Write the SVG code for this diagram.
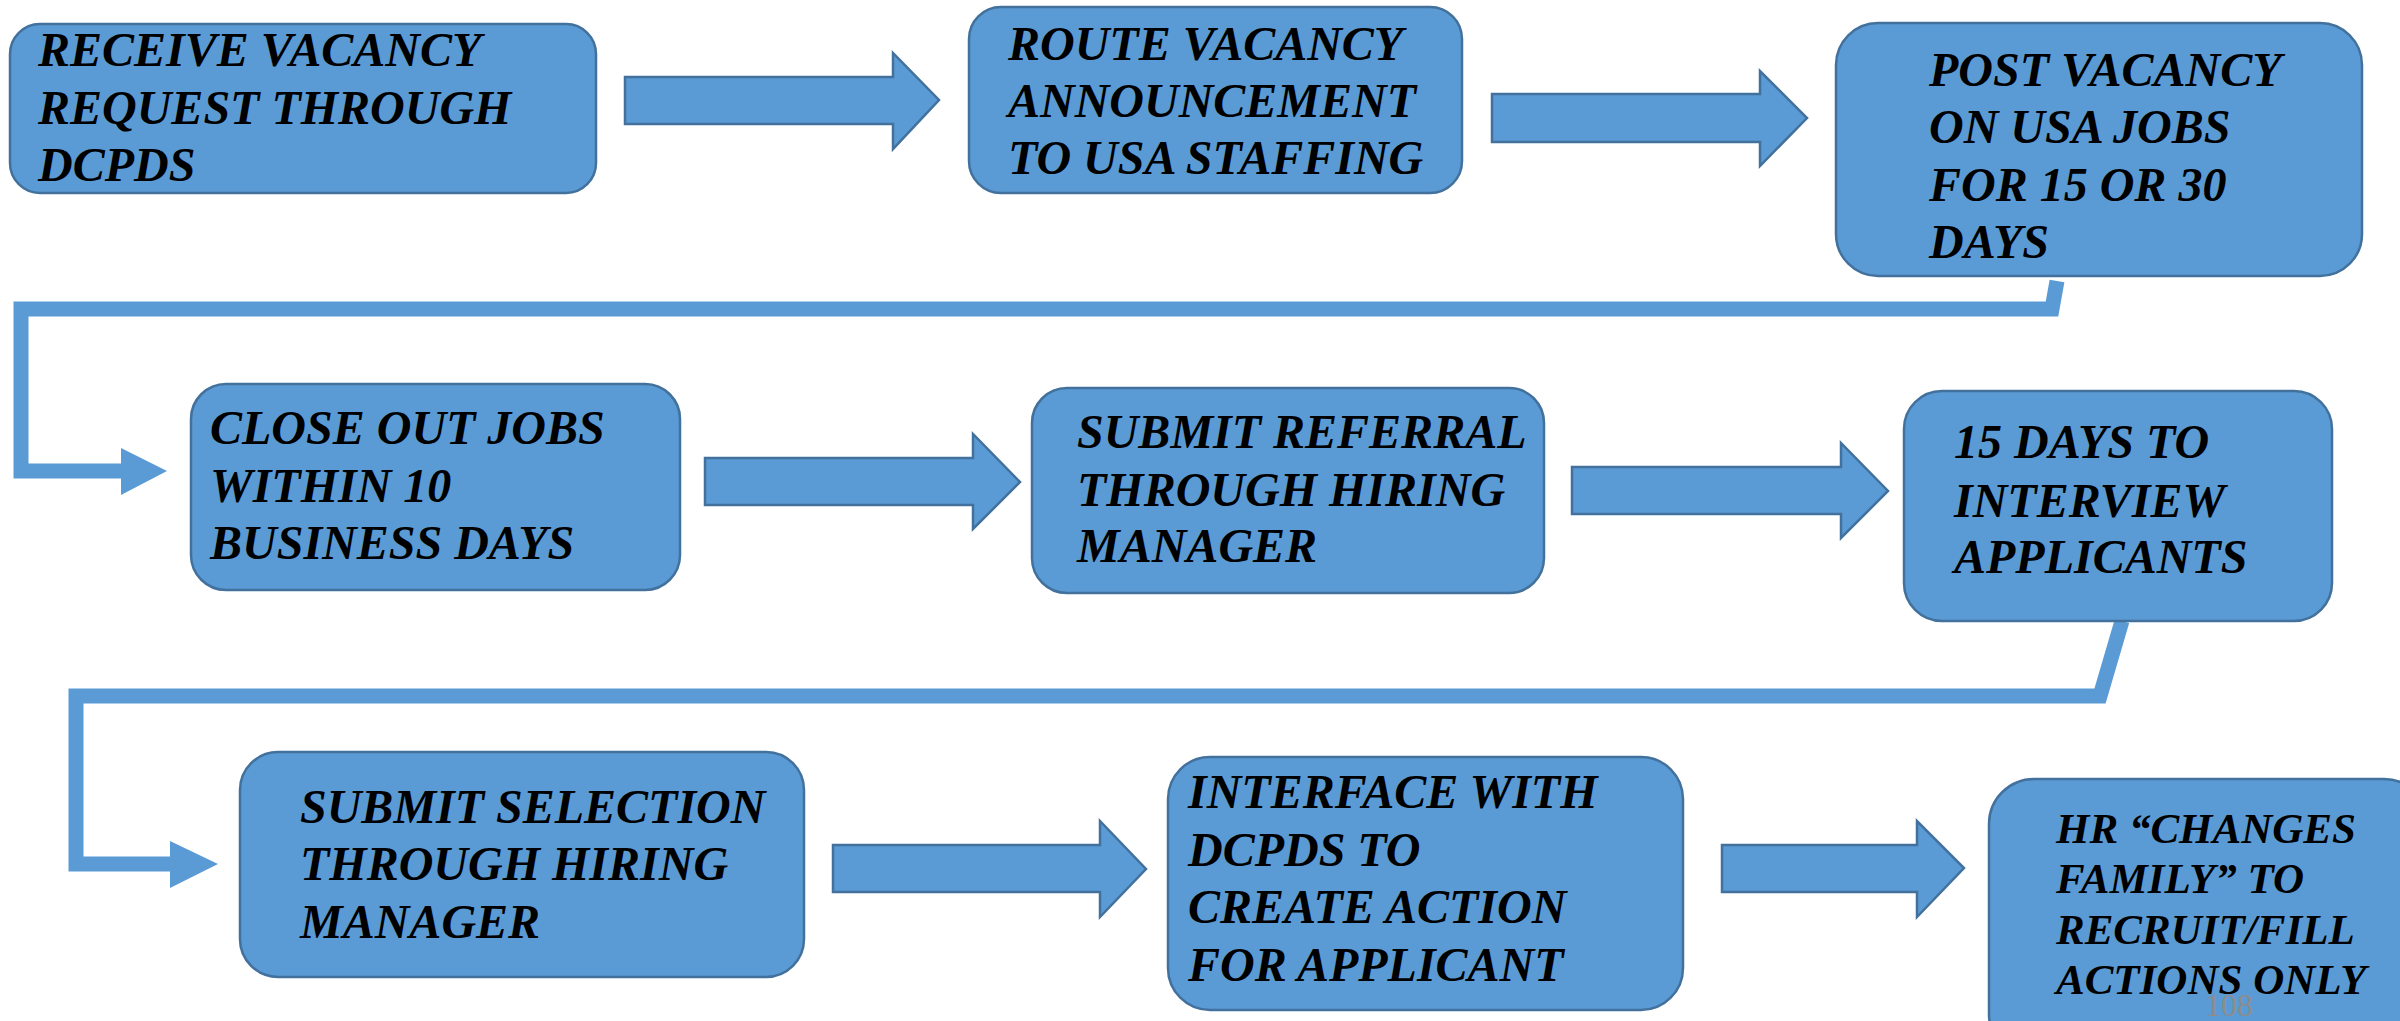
<svg xmlns="http://www.w3.org/2000/svg" width="2400" height="1021" viewBox="0 0 2400 1021">
<style>
.box{fill:#5B9BD5;stroke:#41719C;stroke-width:2.5}
.arr{fill:#5B9BD5;stroke:#41719C;stroke-width:2.5;stroke-linejoin:miter}
.conn{fill:none;stroke:#5B9BD5;stroke-width:15;stroke-linejoin:miter}
.head{fill:#5B9BD5}
.t{font-family:"Liberation Serif","Times New Roman",serif;font-weight:bold;font-style:italic;font-size:48px;fill:#000}
.t9{font-size:43px}
.pg{font-family:"Liberation Serif","Times New Roman",serif;font-size:32px;fill:#8C8C8C}
</style>
<rect width="2400" height="1021" fill="#fff"/>

<g id="connectors">
<polygon class="arr" points="625,77 893,77 893,53 939,100 893,149 893,124 625,124"/>
<polygon class="arr" points="1492,94 1760,94 1760,71 1807,118 1760,166 1760,142 1492,142"/>
<polygon class="arr" points="705,458 973,458 973,434 1020,482 973,529 973,505 705,505"/>
<polygon class="arr" points="1572,467 1841,467 1841,443 1888,491 1841,538 1841,514 1572,514"/>
<polygon class="arr" points="833,845 1100,845 1100,821 1146,869 1100,917 1100,892 833,892"/>
<polygon class="arr" points="1722,845 1917,845 1917,821 1964,868 1917,917 1917,892 1722,892"/>
<polyline class="conn" points="2057,281 2052,309 21,309 21,471 122,471"/>
<polygon class="head" points="121,448 167,471 121,495"/>
<polyline class="conn" points="2122,621 2100,696 76,696 76,864 171,864"/>
<polygon class="head" points="170,841 218,864 170,888"/>
</g>

<g id="n1">
<rect class="box" x="10" y="24" width="586" height="169" rx="30" ry="30"/>
<text class="t"><tspan x="38" y="66">RECEIVE VACANCY</tspan><tspan x="38" y="124">REQUEST THROUGH</tspan><tspan x="38" y="181">DCPDS</tspan></text>
</g>
<g id="n2">
<rect class="box" x="969" y="7" width="493" height="186" rx="32" ry="32"/>
<text class="t"><tspan x="1008" y="60">ROUTE VACANCY</tspan><tspan x="1008" y="117">ANNOUNCEMENT</tspan><tspan x="1008" y="174">TO USA STAFFING</tspan></text>
</g>
<g id="n3">
<rect class="box" x="1836" y="23" width="526" height="253" rx="42" ry="42"/>
<text class="t"><tspan x="1929" y="86">POST VACANCY</tspan><tspan x="1929" y="143">ON USA JOBS</tspan><tspan x="1929" y="201">FOR 15 OR 30</tspan><tspan x="1929" y="258">DAYS</tspan></text>
</g>
<g id="n4">
<rect class="box" x="191" y="384" width="489" height="206" rx="35" ry="35"/>
<text class="t"><tspan x="210" y="444">CLOSE OUT JOBS</tspan><tspan x="210" y="502">WITHIN 10</tspan><tspan x="210" y="559">BUSINESS DAYS</tspan></text>
</g>
<g id="n5">
<rect class="box" x="1032" y="388" width="512" height="205" rx="35" ry="35"/>
<text class="t"><tspan x="1077" y="448">SUBMIT REFERRAL</tspan><tspan x="1077" y="506">THROUGH HIRING</tspan><tspan x="1077" y="562">MANAGER</tspan></text>
</g>
<g id="n6">
<rect class="box" x="1904" y="391" width="428" height="230" rx="38" ry="38"/>
<text class="t"><tspan x="1954" y="458">15 DAYS TO</tspan><tspan x="1954" y="517">INTERVIEW</tspan><tspan x="1954" y="573">APPLICANTS</tspan></text>
</g>
<g id="n7">
<rect class="box" x="240" y="752" width="564" height="225" rx="38" ry="38"/>
<text class="t"><tspan x="300" y="823">SUBMIT SELECTION</tspan><tspan x="300" y="880">THROUGH HIRING</tspan><tspan x="300" y="938">MANAGER</tspan></text>
</g>
<g id="n8">
<rect class="box" x="1168" y="757" width="515" height="253" rx="42" ry="42"/>
<text class="t"><tspan x="1188" y="808">INTERFACE WITH</tspan><tspan x="1188" y="866">DCPDS TO</tspan><tspan x="1188" y="923">CREATE ACTION</tspan><tspan x="1188" y="981">FOR APPLICANT</tspan></text>
</g>
<g id="n9">
<rect class="box" x="1989" y="779" width="440" height="280" rx="45" ry="45"/>
<text class="t t9"><tspan x="2056" y="843">HR “CHANGES</tspan><tspan x="2056" y="893">FAMILY” TO</tspan><tspan x="2056" y="944">RECRUIT/FILL</tspan><tspan x="2056" y="994">ACTIONS ONLY</tspan></text>
</g>
<text class="pg" x="2205" y="1016">108</text>
</svg>
